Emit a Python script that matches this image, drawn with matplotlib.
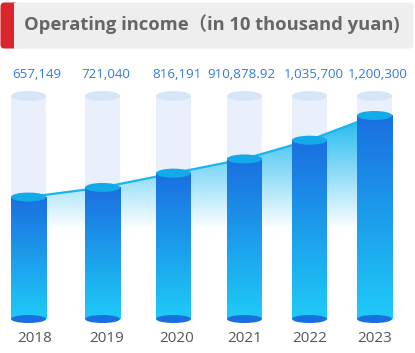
import matplotlib
matplotlib.use('Agg')
import matplotlib.pyplot as plt
import numpy as np
from matplotlib.patches import Ellipse, FancyBboxPatch, Rectangle, Polygon
from matplotlib.colors import LinearSegmentedColormap, to_rgb

# data
years = ['2018', '2019', '2020', '2021', '2022', '2023']
income = [657149, 721040, 816191, 910878.92, 1035700, 1200300]
value_labels = ['657,149', '721,040', '816,191', '910,878.92', '1,035,700', '1,200,300']
title = 'Operating income\uff08in 10 thousand yuan)'

# layout (pixels)
W, H = 415, 353
bar_x = [28.5, 102.5, 173.5, 244.5, 309.5, 374.5]
year_x = [35, 106.5, 177, 244.5, 310, 375]
value_x = [36.5, 106, 177.5, 241.5, 313.5, 378]
bar_w = 35
ax_bottom_px, ax_top_px = 319, 96
y_lo, y_hi = -155000, 1330000
vpp = (y_hi - y_lo) / (ax_bottom_px - ax_top_px)   # value per pixel

fonts = ['Open Sans', 'Noto Sans CJK SC', 'DejaVu Sans']

fig = plt.figure(figsize=(W / 100, H / 100), dpi=100)
fig.patch.set_facecolor('white')

# decoration layer in pixel coords
bg = fig.add_axes([0, 0, 1, 1])
bg.set_xlim(0, W)
bg.set_ylim(H, 0)
bg.axis('off')

bg.add_patch(FancyBboxPatch((0.5, 2.5), 413, 46, boxstyle='round,pad=0,rounding_size=4',
                            fc='#eeeeee', ec='none'))
bg.add_patch(FancyBboxPatch((0.5, 2.5), 18, 46, boxstyle='round,pad=0,rounding_size=4',
                            fc='#d9252b', ec='none'))
bg.add_patch(Rectangle((13.5, 2.5), 8, 46, fc='#eeeeee', ec='none'))
bg.text(24, 24.5, title, ha='left', va='center', fontsize=13.2, fontweight='bold',
        color='#666666', family=fonts)

# chart layer
ax = fig.add_axes([0, (H - ax_bottom_px) / H, 1, (ax_bottom_px - ax_top_px) / H])
ax.set_facecolor('none')
ax.axis('off')

# background cylinders
for x in bar_x:
    ax.add_patch(Rectangle((x - bar_w / 2, y_lo), bar_w, y_hi - y_lo, fc='#e9f0fb',
                           ec='none', zorder=1))
    ax.add_patch(Ellipse((x, y_hi), bar_w, 10 * vpp, fc='#d7e5f8', ec='none',
                         zorder=1.1, clip_on=False))

# gradient area under the line
n = 300
vals = np.linspace(y_lo, y_hi, n)
py = ax_bottom_px - (vals - y_lo) / vpp
alpha = np.clip((230 - py) / (230 - 117), 0, 1)
rgba = np.zeros((n, 1, 4))
rgba[:, 0, :3] = to_rgb('#1fb9f0')
rgba[:, 0, 3] = alpha
im = ax.imshow(rgba, extent=[bar_x[0], bar_x[-1], y_lo, y_hi], origin='lower',
               aspect='auto', zorder=2)
verts = list(zip(bar_x, income)) + [(bar_x[-1], y_lo), (bar_x[0], y_lo)]
poly = Polygon(verts, closed=True, transform=ax.transData)
im.set_clip_path(poly)
ax.plot(bar_x, income, color='#1ab5ee', lw=1.6, zorder=2.5, solid_capstyle='round')

# bars
bar_cmap = LinearSegmentedColormap.from_list('bar', ['#1fcbf7', '#1a6fe0'])
grad = np.linspace(0, 1, 256).reshape(-1, 1)
for x, v in zip(bar_x, income):
    ax.imshow(grad, extent=[x - bar_w / 2, x + bar_w / 2, y_lo, v], origin='lower',
              aspect='auto', cmap=bar_cmap, zorder=3)
    ax.add_patch(Ellipse((x, v), bar_w, 9 * vpp, fc='#13aaea', ec='none', zorder=4))
    ax.add_patch(Ellipse((x, y_lo), bar_w, 8 * vpp, fc='#1a6fe0', ec='none',
                         zorder=4, clip_on=False))

ax.set_xlim(0, W)
ax.set_ylim(y_lo, y_hi)

# labels
for x, lab in zip(value_x, value_labels):
    bg.text(x, 74, lab, ha='center', va='center', fontsize=9.6, color='#2f7ce0',
            family=fonts)
for x, yr in zip(year_x, years):
    bg.text(x, 338, yr, ha='center', va='center', fontsize=11, color='#555555',
            family=fonts)

fig.savefig('out.png', dpi=100)
